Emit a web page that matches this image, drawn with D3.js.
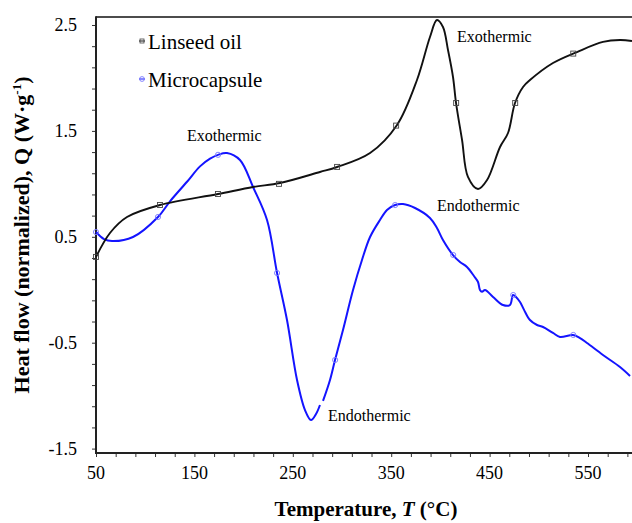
<!DOCTYPE html>
<html>
<head>
<meta charset="utf-8">
<script src="https://cdnjs.cloudflare.com/ajax/libs/d3/7.8.5/d3.min.js"></script>
<style>
body { margin: 0; background: #fff; }
svg text { font-family: "Liberation Serif", "Times New Roman", serif; fill: #000; }
</style>
</head>
<body>
<div id="chart"></div>
<script>
var w = 632;
var h = 523;

// Linseed oil curve (T in C, Q in W/g)
var linseedT = [50, 64.2, 81.5, 115, 174, 209.6, 237, 277.6, 295, 328.5, 355.9, 376.2, 389.4, 396.5, 402.6, 407.7, 412.8, 415.9, 422, 428, 438.2, 447.4, 460.6, 468.7, 475.8, 484, 491, 514.4, 538.8, 565.2, 582.5, 594.7];
var linseedQ = [0.31, 0.536, 0.687, 0.80, 0.904, 0.970, 1.008, 1.112, 1.159, 1.291, 1.556, 1.981, 2.387, 2.547, 2.481, 2.264, 2.009, 1.763, 1.414, 1.065, 0.951, 1.036, 1.348, 1.480, 1.763, 1.915, 1.98, 2.141, 2.245, 2.34, 2.358, 2.349];

// Microcapsule curve, null = break in the trace
var microT = [50, 58.1, 66.3, 87.6, 113, 125.2, 142.5, 155.7, 165.9, 174, 183.1, 196.3, 209.6, 223.8, 234, 244.1, 254.3, 262.4, 268.5, 273.6, 277.6, 279, 280.7, 287.8, 292.9, 301, 311.2, 320.3, 328.5, 338.6, 345.7, 353.9, 362, 374.2, 389.4, 396.5, 402.6, 412.8, 419.9, 427, 434.1, 438.2, 440.2, 442.3, 445.3, 453.5, 463.6, 470.7, 473.8, 476.8, 480.9, 485, 491, 498.2, 504.3, 514.4, 521.5, 534.8, 541.9, 549, 565.2, 582.5, 592.7];
var microQ = [0.545, 0.479, 0.460, 0.498, 0.687, 0.835, 1.02, 1.165, 1.238, 1.274, 1.291, 1.225, 0.970, 0.659, 0.158, -0.286, -0.852, -1.136, -1.23, -1.173, -1.088, null, -1.05, -0.852, -0.663, -0.38, -0.002, 0.281, 0.498, 0.659, 0.753, 0.80, 0.81, 0.772, 0.678, 0.583, 0.47, 0.328, 0.262, 0.215, 0.13, 0.073, -0.002, -0.02, -0.002, -0.068, -0.144, -0.144, -0.05, -0.068, -0.116, -0.19, -0.286, -0.333, -0.352, -0.408, -0.446, -0.427, -0.456, -0.503, -0.616, -0.729, -0.814];

// marker symbols along each curve
var linseedMarkT = [50, 115, 174, 236, 295, 355, 416, 476, 535];
var linseedMarkQ = [0.31, 0.80, 0.904, 1.0, 1.16, 1.55, 1.763, 1.763, 2.23];
var microMarkT = [50, 113, 174, 234, 293, 354, 413, 474, 535];
var microMarkQ = [0.545, 0.687, 1.274, 0.158, -0.663, 0.80, 0.328, -0.05, -0.427];

var xTickLabels = [50, 150, 250, 350, 450, 550];
var yTickLabels = [2.5, 1.5, 0.5, -0.5, -1.5];

var legendNames = ["Linseed oil", "Microcapsule"];

var noteText = ["Exothermic", "Exothermic", "Endothermic", "Endothermic"];
var noteT = [142.5, 416.9, 396.5, 285.8];
var noteQ = [1.405, 2.339, 0.744, -1.239];

var plotLeft = 96, plotRight = 632, plotTop = 17, plotBottom = 453;

//Create scale functions
var xScale = d3.scaleLinear()
               .domain([50, 594.7])
               .range([plotLeft, plotRight]);

var yScale = d3.scaleLinear()
               .domain([-1.5415, 2.5755])
               .range([plotBottom, plotTop]);

var svg = d3.select("#chart")
            .append("svg")
            .attr("width", w)
            .attr("height", h);

// minor ticks
var xTicks = d3.range(50, 595, 20);
var yTicks = d3.range(-1.5, 2.6, 0.2);

var xAxis = d3.axisBottom(xScale)
              .tickValues(xTicks)
              .tickSizeInner(4)
              .tickSizeOuter(0)
              .tickFormat("");

var yAxis = d3.axisLeft(yScale)
              .tickValues(yTicks)
              .tickSizeInner(4)
              .tickSizeOuter(0)
              .tickFormat("");

svg.append("g")
   .attr("class", "x axis")
   .attr("transform", "translate(0," + plotBottom + ")")
   .call(xAxis);

svg.append("g")
   .attr("class", "y axis")
   .attr("transform", "translate(" + plotLeft + ",0)")
   .call(yAxis);

svg.selectAll(".axis .domain").remove();
svg.selectAll(".axis line").attr("stroke", "#333").attr("stroke-width", 1);

// frame lines
svg.append("line").attr("x1", plotLeft).attr("x2", plotRight).attr("y1", plotTop).attr("y2", plotTop)
   .attr("stroke", "#111").attr("stroke-width", 1.6);
svg.append("line").attr("x1", plotLeft).attr("x2", plotLeft).attr("y1", plotTop - 0.8).attr("y2", plotBottom + 1)
   .attr("stroke", "#222").attr("stroke-width", 2);
svg.append("line").attr("x1", plotLeft - 1).attr("x2", plotRight).attr("y1", plotBottom).attr("y2", plotBottom)
   .attr("stroke", "#222").attr("stroke-width", 2);

// tick labels
svg.selectAll(".xlab")
   .data(xTickLabels)
   .enter()
   .append("text")
   .attr("class", "xlab")
   .attr("x", function(d) { return xScale(d); })
   .attr("y", 479)
   .attr("text-anchor", "middle")
   .style("font-size", "18px")
   .text(function(d) { return d; });

svg.selectAll(".ylab")
   .data(yTickLabels)
   .enter()
   .append("text")
   .attr("class", "ylab")
   .attr("x", 77)
   .attr("y", function(d) { return yScale(d) + 6; })
   .attr("text-anchor", "end")
   .style("font-size", "18px")
   .text(function(d) { return d.toFixed(1); });

// axis titles
var xt = svg.append("text")
   .attr("x", 366)
   .attr("y", 516)
   .attr("text-anchor", "middle")
   .style("font-size", "21px")
   .style("font-weight", "bold");
xt.append("tspan").text("Temperature, ");
xt.append("tspan").style("font-style", "italic").text("T");
xt.append("tspan").text(" (\u00B0C)");

var yt = svg.append("text")
   .attr("transform", "translate(29,235) rotate(-90)")
   .attr("text-anchor", "middle")
   .style("font-size", "22px")
   .style("font-weight", "bold");
yt.append("tspan").text("Heat flow (normalized), Q (W\u00B7g");
yt.append("tspan").attr("dy", -8).style("font-size", "13px").text("-1");
yt.append("tspan").attr("dy", 8).text(")");

// curves
var line = d3.line()
             .defined(function(d) { return d[1] !== null; })
             .x(function(d) { return xScale(d[0]); })
             .y(function(d) { return yScale(d[1]); })
             .curve(d3.curveCatmullRom.alpha(0.5));

var linseedData = linseedT.map(function(t, i) { return [t, linseedQ[i]]; });
var microData = microT.map(function(t, i) { return [t, microQ[i]]; });

svg.append("path")
   .datum(microData)
   .attr("fill", "none")
   .attr("stroke", "#1414ff")
   .attr("stroke-width", 2)
   .attr("d", line);

svg.append("path")
   .datum(linseedData)
   .attr("fill", "none")
   .attr("stroke", "#111")
   .attr("stroke-width", 1.9)
   .attr("d", line);

// markers
svg.selectAll(".mk1")
   .data(linseedMarkT.map(function(t, i) { return [t, linseedMarkQ[i]]; }))
   .enter()
   .append("rect")
   .attr("class", "mk1")
   .attr("x", function(d) { return xScale(d[0]) - 2.5; })
   .attr("y", function(d) { return yScale(d[1]) - 2.5; })
   .attr("width", 5)
   .attr("height", 5)
   .attr("fill", "none")
   .attr("stroke", "#444")
   .attr("stroke-width", 0.9);

svg.selectAll(".mk2")
   .data(microMarkT.map(function(t, i) { return [t, microMarkQ[i]]; }))
   .enter()
   .append("circle")
   .attr("class", "mk2")
   .attr("cx", function(d) { return xScale(d[0]); })
   .attr("cy", function(d) { return yScale(d[1]); })
   .attr("r", 2.6)
   .attr("fill", "none")
   .attr("stroke", "#7878ff")
   .attr("stroke-width", 0.9);

// legend
var leg = svg.selectAll(".leg")
   .data(legendNames)
   .enter()
   .append("g")
   .attr("class", "leg")
   .attr("transform", function(d, i) { return "translate(142," + (41 + i * 38) + ")"; });

leg.append("line")
   .attr("x1", -3).attr("x2", 3)
   .attr("stroke", function(d, i) { return i === 0 ? "#111" : "#1414ff"; })
   .attr("stroke-width", 1);

leg.filter(function(d, i) { return i === 0; })
   .append("rect")
   .attr("x", -2).attr("y", -2).attr("width", 4).attr("height", 4)
   .attr("fill", "none").attr("stroke", "#444").attr("stroke-width", 0.8);

leg.filter(function(d, i) { return i === 1; })
   .append("circle")
   .attr("r", 2.4)
   .attr("fill", "none").attr("stroke", "#7878ff").attr("stroke-width", 0.9);

leg.append("text")
   .attr("x", 6)
   .attr("y", 8)
   .style("font-size", "21px")
   .text(function(d) { return d; });

// annotations
svg.selectAll(".note")
   .data(noteText)
   .enter()
   .append("text")
   .attr("class", "note")
   .attr("x", function(d, i) { return xScale(noteT[i]); })
   .attr("y", function(d, i) { return yScale(noteQ[i]); })
   .style("font-size", "16px")
   .text(function(d) { return d; });
</script>
</body>
</html>
